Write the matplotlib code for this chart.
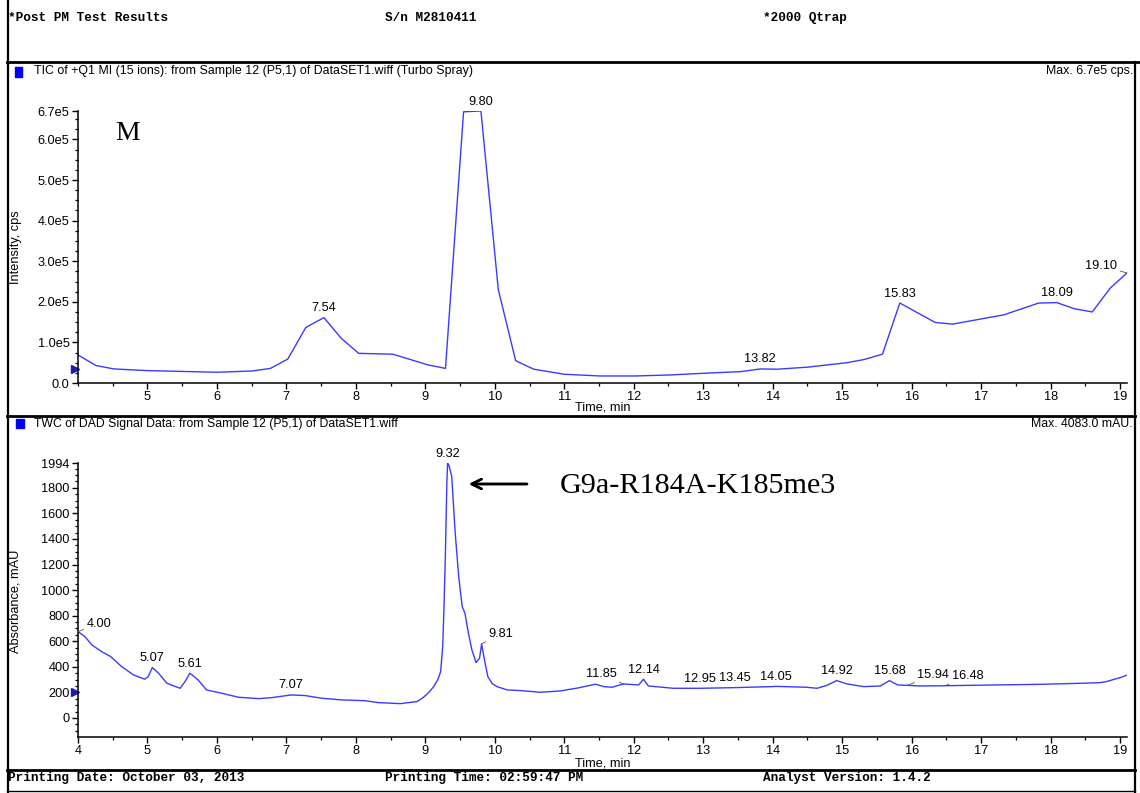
import matplotlib
matplotlib.use("Agg")
import matplotlib.pyplot as plt
from matplotlib.lines import Line2D
from matplotlib.patches import Rectangle
from matplotlib.ticker import MultipleLocator, FixedLocator
from matplotlib import font_manager
import numpy as np

# ---------------- data ----------------
# TIC of +Q1 MI (counts per second)
tic_time = [4.00, 4.26, 4.52, 5.00, 6.00, 6.51, 6.77, 7.02, 7.28, 7.54, 7.79, 8.04,
            8.53, 9.04, 9.29, 9.55, 9.80, 10.05, 10.30, 10.56, 11.00, 11.52, 12.02,
            12.52, 13.01, 13.54, 13.82, 14.07, 14.50, 15.07, 15.32, 15.58, 15.83,
            16.34, 16.59, 17.33, 17.83, 18.09, 18.34, 18.60, 18.86, 19.10]
tic_intensity = [69000, 43000, 34600, 30500, 26500, 29600, 36000, 59000, 137000,
                 161000, 110000, 73000, 71000, 44500, 36000, 668000, 670000, 230000,
                 55000, 34000, 21500, 17300, 17300, 19800, 24000, 28000, 34600, 34000,
                 39000, 50000, 58000, 71000, 197000, 149000, 145000, 168000, 197000,
                 198000, 183000, 175000, 234000, 271000]
tic_peaks = [7.54, 9.80, 13.82, 15.83, 18.09, 19.10]

# TWC of DAD signal (mAU)
dad_time = [4.00, 4.10, 4.20, 4.34, 4.47, 4.63, 4.80, 4.96, 5.01, 5.07, 5.16, 5.28,
            5.47, 5.54, 5.61, 5.73, 5.85, 6.07, 6.31, 6.60, 6.79, 7.07, 7.27, 7.51,
            7.80, 8.13, 8.32, 8.64, 8.88, 8.97, 9.05, 9.12, 9.18, 9.22, 9.25, 9.27,
            9.29, 9.31, 9.32, 9.34, 9.38, 9.43, 9.48, 9.53, 9.57, 9.62, 9.67, 9.73,
            9.78, 9.81, 9.86, 9.90, 9.96, 10.03, 10.18, 10.37, 10.65, 10.94, 11.20,
            11.45, 11.57, 11.69, 11.85, 12.07, 12.14, 12.21, 12.57, 12.95, 13.45,
            13.99, 14.05, 14.49, 14.64, 14.78, 14.92, 15.07, 15.31, 15.55, 15.68,
            15.80, 15.94, 16.12, 16.48, 17.18, 17.85, 18.42, 18.71, 18.81, 18.90,
            19.00, 19.10]
dad_absorbance = [675, 636, 571, 519, 480, 401, 336, 303, 323, 394, 350, 271,
                  232, 284, 350, 297, 219, 193, 162, 151, 159, 180, 175, 154,
                  141, 135, 120, 112, 128, 160, 200, 245, 300, 362, 558, 900,
                  1315, 1850, 1994, 1975, 1888, 1445, 1106, 871, 819, 663, 532, 433,
                  467, 579, 428, 323, 270, 245, 219, 214, 201, 211, 235,
                  264, 245, 240, 266, 258, 303, 250, 232, 232, 237,
                  245, 247, 240, 232, 255, 292, 266, 245, 250, 292,
                  258, 255, 250, 252, 258, 263, 271, 276, 285, 300,
                  315, 335]
dad_peaks = [4.00, 5.07, 5.61, 7.07, 9.32, 9.81, 11.85, 12.14, 12.95, 13.45,
             14.05, 14.92, 15.68, 15.94, 16.48]

tic_yticks = [0, 1e5, 2e5, 3e5, 4e5, 5e5, 6e5, 6.7e5]
tic_yticklabels = ["0.0", "1.0e5", "2.0e5", "3.0e5", "4.0e5", "5.0e5", "6.0e5", "6.7e5"]
dad_yticks = [0, 200, 400, 600, 800, 1000, 1200, 1400, 1600, 1800, 1994]
tic_xticks = list(range(5, 20))
dad_xticks = list(range(4, 20))

# ---------------- styling ----------------
W, H = 1140, 793
LINE = "#3b3bff"
SANS = "Liberation Sans"
names = {f.name for f in font_manager.fontManager.ttflist}
NARROW = "Liberation Sans Narrow" if "Liberation Sans Narrow" in names else SANS
MONO = "Liberation Mono"
SERIF = "Liberation Serif"
plt.rcParams["font.family"] = [SANS, "DejaVu Sans"]
FS = 9.2          # tick / peak label size
TITLE_FS = 8.8    # DAD panel title size
TIC_TITLE_FS = 8.9 if NARROW == SANS else 9.4


def fx(px):
    return px / W


def fy(py):
    return 1 - py / H


fig = plt.figure(figsize=(W / 100, H / 100), dpi=100)
fig.patch.set_facecolor("white")


def hline(y, x0, x1, lw):
    fig.add_artist(Line2D([fx(x0), fx(x1)], [fy(y), fy(y)], color="black", lw=lw,
                          transform=fig.transFigure))


def vline(x, y0, y1, lw):
    fig.add_artist(Line2D([fx(x), fx(x)], [fy(y0), fy(y1)], color="black", lw=lw,
                          transform=fig.transFigure))


# page frame
vline(7.5, 0, H, 1.6)
vline(1135, 62, H, 1.6)
hline(62, 7, W, 2.0)
hline(416, 7, 1135, 2.0)
hline(769.5, 7, 1135, 2.0)
hline(791, 7, 1135, 1.0)

# header / footer text
mono = dict(family=MONO, weight="bold", fontsize=9.2, va="center", ha="left")
fig.text(fx(8), fy(18), "*Post PM Test Results", **mono)
fig.text(fx(385), fy(18), "S/n M2810411", **mono)
fig.text(fx(763), fy(18), "*2000 Qtrap", **mono)
fig.text(fx(8), fy(778), "Printing Date: October 03, 2013", **mono)
fig.text(fx(385), fy(778), "Printing Time: 02:59:47 PM", **mono)
fig.text(fx(763), fy(778), "Analyst Version: 1.4.2", **mono)

# panel titles
fig.add_artist(Rectangle((fx(15), fy(77)), fx(7), 10 / H, color="#0000ff",
                         transform=fig.transFigure))
fig.text(fx(34), fy(71), "TIC of +Q1 MI (15 ions): from Sample 12 (P5,1) of DataSET1.wiff (Turbo Spray)",
         family=NARROW, fontsize=TIC_TITLE_FS, va="center", ha="left")
fig.text(fx(1133), fy(71), "Max. 6.7e5 cps.", family=NARROW, fontsize=TIC_TITLE_FS,
         va="center", ha="right")

fig.add_artist(Rectangle((fx(16), fy(428)), fx(8), 9 / H, color="#0000ff",
                         transform=fig.transFigure))
fig.text(fx(34), fy(424), "TWC of DAD Signal Data: from Sample 12 (P5,1) of DataSET1.wiff",
         fontsize=TITLE_FS, va="center", ha="left")
fig.text(fx(1133), fy(424), "Max. 4083.0 mAU.", fontsize=TITLE_FS, va="center", ha="right")


def style_axes(ax, xticks, yticks, yminor):
    for s in ("top", "right"):
        ax.spines[s].set_visible(False)
    for s in ("left", "bottom"):
        ax.spines[s].set_linewidth(1.1)
    ax.set_xlim(4, 19.1)
    ax.xaxis.set_major_locator(FixedLocator(xticks))
    ax.xaxis.set_minor_locator(MultipleLocator(0.5))
    ax.yaxis.set_major_locator(FixedLocator(yticks))
    ax.yaxis.set_minor_locator(MultipleLocator(yminor))
    ax.tick_params(which="major", direction="out", length=4, width=1, labelsize=FS,
                   pad=2, colors="black")
    ax.tick_params(which="minor", direction="out", length=2.5, width=0.9)
    ax.set_facecolor("none")


# ---------------- TIC panel ----------------
ax1 = fig.add_axes([fx(78), fy(383), fx(1127 - 78), (383 - 111) / H])
ax1.plot(tic_time, tic_intensity, color=LINE, lw=1.0)
ax1.set_ylim(0, 6.7e5)
style_axes(ax1, tic_xticks, tic_yticks, 25000)
ax1.set_yticklabels(tic_yticklabels)
ax1.plot([-0.003], [34600], marker=">", color="#1c1cb4", markersize=6,
         transform=ax1.get_yaxis_transform(), clip_on=False)

for t in tic_peaks:
    v = float(np.interp(t, tic_time, tic_intensity))
    if t == 19.10:
        ax1.annotate(f"{t:.2f}", xy=(t, v), xytext=(-7, 1), textcoords="offset points",
                     ha="right", va="bottom", fontsize=FS,
                     arrowprops=dict(arrowstyle="-", color="#555555", lw=0.6,
                                     shrinkA=0, shrinkB=0))
    else:
        ax1.annotate(f"{t:.2f}", xy=(t, v), xytext=(0, 2.5), textcoords="offset points",
                     ha="center", va="bottom", fontsize=FS)

fig.text(fx(602.5), fy(408), "Time, min", fontsize=FS, ha="center", va="center")
fig.text(fx(16), fy(247), "Intensity, cps", fontsize=FS, ha="center", va="center",
         rotation=90)
fig.text(fx(128), fy(133), "M", family=SERIF, fontsize=20, ha="center", va="center")

# ---------------- DAD panel ----------------
ax2 = fig.add_axes([fx(78), fy(737), fx(1127 - 78), (737 - 463) / H])
ax2.plot(dad_time, dad_absorbance, color=LINE, lw=1.0)
ax2.set_ylim(-149, 1994)
style_axes(ax2, dad_xticks, dad_yticks, 50)
ax2.plot([-0.003], [200], marker=">", color="#1c1cb4", markersize=6,
         transform=ax2.get_yaxis_transform(), clip_on=False)

leader_right = {4.00: (6, 1.5), 9.81: (5, 3), 15.94: (7, 3), 16.48: (5, 2.5)}
leader_left = {11.85: (-5, 2.5)}
for t in dad_peaks:
    v = float(np.interp(t, dad_time, dad_absorbance))
    lab = f"{t:.2f}"
    if t in leader_right:
        ax2.annotate(lab, xy=(t, v), xytext=leader_right[t], textcoords="offset points",
                     ha="left", va="bottom", fontsize=FS,
                     arrowprops=dict(arrowstyle="-", color="#555555", lw=0.6,
                                     shrinkA=0, shrinkB=0))
    elif t in leader_left:
        ax2.annotate(lab, xy=(t, v), xytext=leader_left[t], textcoords="offset points",
                     ha="right", va="bottom", fontsize=FS,
                     arrowprops=dict(arrowstyle="-", color="#555555", lw=0.6,
                                     shrinkA=0, shrinkB=0))
    else:
        ax2.annotate(lab, xy=(t, v), xytext=(0, 2.5), textcoords="offset points",
                     ha="center", va="bottom", fontsize=FS)

fig.text(fx(602.5), fy(763), "Time, min", fontsize=FS, ha="center", va="center")
fig.text(fx(16), fy(601), "Absorbance, mAU", fontsize=FS, ha="center", va="center",
         rotation=90)

# peak identity
fig.text(fx(560), fy(486), "G9a-R184A-K185me3", family=SERIF, fontsize=21.7,
         ha="left", va="center")
fig.add_artist(plt.annotate("", xy=(fx(469), fy(484)), xytext=(fx(527), fy(484)),
                            xycoords="figure fraction", textcoords="figure fraction",
                            arrowprops=dict(arrowstyle="->,head_length=0.7,head_width=0.35",
                                            color="black", lw=1.8, shrinkA=0, shrinkB=0)))

fig.savefig("out.png", dpi=100)
